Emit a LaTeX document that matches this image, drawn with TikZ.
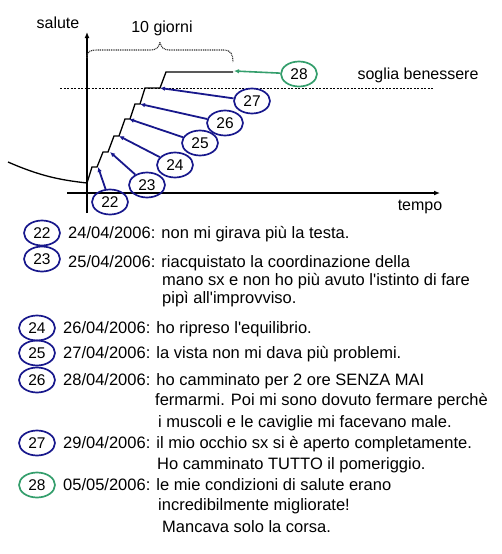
\documentclass[tikz,border=0pt]{standalone}
\usepackage{fontspec}
\setmainfont{Liberation Sans}
\usetikzlibrary{shapes.geometric,arrows.meta}
\definecolor{blueC}{RGB}{24,24,140}
\definecolor{greenC}{RGB}{52,158,108}
\begin{document}
\begin{tikzpicture}[x=1pt,y=-1pt,
  bell/.style={ellipse,draw=blueC,line width=1.7pt,minimum width=36pt,minimum height=25pt,inner sep=0pt,font=\fontsize{15.5}{15.5}\selectfont},
  gbell/.style={bell,draw=greenC},
  arr/.style={draw=blueC,line width=1.8pt,-{Latex[length=5pt,width=4.5pt]}},
  garr/.style={draw=greenC,line width=1.6pt,-{Latex[length=5pt,width=4.5pt]}},
  lbl/.style={font=\fontsize{16}{16}\selectfont,inner sep=0pt},
  txt/.style={anchor=base west,font=\fontsize{16.5}{18}\selectfont,inner sep=0pt},
  axis/.style={line width=2.2pt,-{Latex[length=6pt,width=5pt]}}]
\useasboundingbox (0,0) rectangle (502,554);
% axes
\coordinate (ya0) at (87,213); \coordinate (ya1) at (87,32);
\coordinate (xa0) at (67,193); \coordinate (xa1) at (440,193);
\draw[line width=1.4pt,-{Latex[length=6pt,width=5pt]}] (ya0) -- (ya1);
\draw[axis] (xa0) -- (xa1);
\node[lbl] (salute) at (58,23) {salute};
\node[lbl] (tempo) at (420,207) {tempo};
% threshold
\coordinate (th0) at (60,88); \coordinate (th1) at (433,88);
\draw[line width=0.8pt,dash pattern=on 2pt off 1.5pt] (th0) -- (th1);
\node[lbl] (soglia) at (418,75) {soglia benessere};
% brace
\draw[gray!40!black,line width=1.1pt,dash pattern=on 1pt off 0.8pt] (87,58) .. controls (87,51) and (90,50) .. (98,50) -- (150,50) .. controls (157,50) and (159,47) .. (160,42)
  .. controls (161,47) and (163,50) .. (170,50) -- (224,50) .. controls (231,50) and (233,55) .. (233,62);
\node[lbl] (giorni) at (162,28) {10 giorni};
% curve and staircase
\draw[line width=1.3pt] (8,162) .. controls (40,176) and (60,180) .. (87,183) -- (92,167) -- (97,167) -- (103,152) -- (108,152)
  -- (114,136) -- (119,136) -- (125,119) -- (130,119) -- (135,104) -- (140,104) -- (145,88) -- (160,88) -- (166,72) -- (233,72);
% targets
\coordinate (s22) at (98,167);
\coordinate (s23) at (110,152);
\coordinate (s24) at (119,136);
\coordinate (s25) at (129,119);
\coordinate (s26) at (140,104);
\coordinate (s27) at (160,88);
\coordinate (s28) at (234,71);
% ellipses
\node[bell] (e22) at (110,202) {22};
\node[bell] (e23) at (147,185) {23};
\node[bell] (e24) at (175,165) {24};
\node[bell] (e25) at (200,143) {25};
\node[bell] (e26) at (225,123) {26};
\node[bell] (e27) at (252,101) {27};
\node[gbell] (e28) at (299,74) {28};
\draw[arr] (e22) -- (s22);
\draw[arr] (e23) -- (s23);
\draw[arr] (e24) -- (s24);
\draw[arr] (e25) -- (s25);
\draw[arr] (e26) -- (s26);
\draw[arr] (e27) -- (s27);
\draw[garr] (e28) -- (s28);
% legend
\node[bell] (l22) at (42,233) {22};
\node[bell] (l23) at (42,259) {23};
\node[bell] (l24) at (37,328) {24};
\node[bell] (l25) at (37,353) {25};
\node[bell] (l26) at (37,380) {26};
\node[bell] (l27) at (37,443) {27};
\node[gbell] (l28) at (37,485) {28};
\node[txt] (t22) at (68,238.5) {24/04/2006: non mi girava più la testa.};
\node[txt] (t23a) at (68,267.5) {25/04/2006: riacquistato la coordinazione della};
\node[txt] (t23b) at (162,285.5) {mano sx e non ho più avuto l\textquotesingle istinto di fare};
\node[txt] (t23c) at (162,303.5) {pipì all\textquotesingle improvviso.};
\node[txt] (t24) at (63,333.5) {26/04/2006: ho ripreso l\textquotesingle equilibrio.};
\node[txt] (t25) at (63,358.5) {27/04/2006: la vista non mi dava più problemi.};
\node[txt] (t26a) at (63,385.5) {28/04/2006: ho camminato per 2 ore SENZA MAI};
\node[txt] (t26b) at (155,405.5) {fermarmi. Poi mi sono dovuto fermare perchè};
\node[txt] (t26c) at (158,427.5) {i muscoli e le caviglie mi facevano male.};
\node[txt] (t27a) at (63,448.5) {29/04/2006: il mio occhio sx si è aperto completamente.};
\node[txt] (t27b) at (157,469.5) {Ho camminato TUTTO il pomeriggio.};
\node[txt] (t28a) at (63,490.5) {05/05/2006: le mie condizioni di salute erano};
\node[txt] (t28b) at (158,510.5) {incredibilmente migliorate!};
\node[txt] (t28c) at (162,532.5) {Mancava solo la corsa.};
\end{tikzpicture}
\end{document}
